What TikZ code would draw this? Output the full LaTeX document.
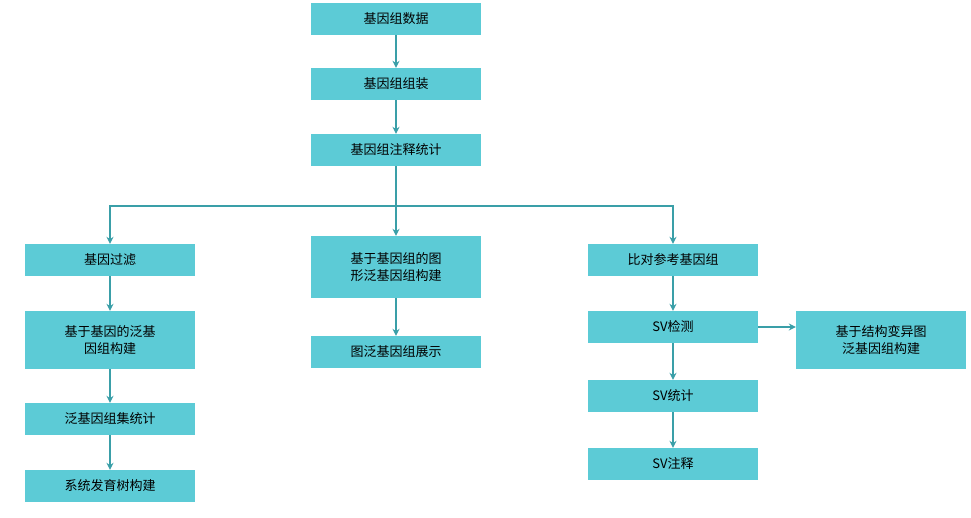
\documentclass[tikz,border=0pt]{standalone}
\usepackage{fontspec}
\setmainfont{Liberation Serif}
\newfontfamily\cjk{Noto Sans CJK SC}
\usetikzlibrary{arrows.meta}
\definecolor{boxc}{HTML}{5CCBD6}
\definecolor{arrc}{HTML}{3A9FA8}
\begin{document}
\begin{tikzpicture}[x=1pt,y=-1pt,
 bx/.style={fill=boxc,draw=none,minimum width=170pt,minimum height=32pt,inner sep=0pt,align=center,font=\cjk\fontsize{13}{17}\selectfont},
 tall/.style={minimum height=58pt},
 ar/.style={draw=arrc,line width=1.6pt,-{Stealth[length=7pt,width=7pt]}}]
\useasboundingbox (0,0) rectangle (971,517);
\node[bx] (a) at (396,19) {基因组数据};
\node[bx] (b) at (396,84) {基因组组装};
\node[bx] (c) at (396,150) {基因组注释统计};
\node[bx] (l1) at (110,260) {基因过滤};
\node[bx,tall,minimum height=62pt] (m1) at (396,267) {基于基因组的图\\形泛基因组构建};
\node[bx] (r1) at (673,260) {比对参考基因组};
\node[bx,tall] (l2) at (110,340) {基于基因的泛基\\因组构建};
\node[bx] (m2) at (396,352) {图泛基因组展示};
\node[bx] (r2) at (673,327) {SV检测};
\node[bx,tall] (r2b) at (881,340) {基于结构变异图\\泛基因组构建};
\node[bx] (l3) at (110,419) {泛基因组集统计};
\node[bx] (r3) at (673,396) {SV统计};
\node[bx] (l4) at (110,486) {系统发育树构建};
\node[bx] (r4) at (673,464) {SV注释};
\coordinate (j) at (396,206);
\draw[ar] (a) -- (b);
\draw[ar] (b) -- (c);
\draw[ar] (c) -- (m1);
\draw[ar] (j) -| (l1);
\draw[ar] (j) -| (r1);
\draw[ar] (l1) -- (l2);
\draw[ar] (l2) -- (l3);
\draw[ar] (l3) -- (l4);
\draw[ar] (m1) -- (m2);
\draw[ar] (r1) -- (r2);
\draw[ar] (r2) -- (r3);
\draw[ar] (r3) -- (r4);
\draw[ar] (r2.east) -- (r2b.west |- r2.east);
\end{tikzpicture}
\end{document}
